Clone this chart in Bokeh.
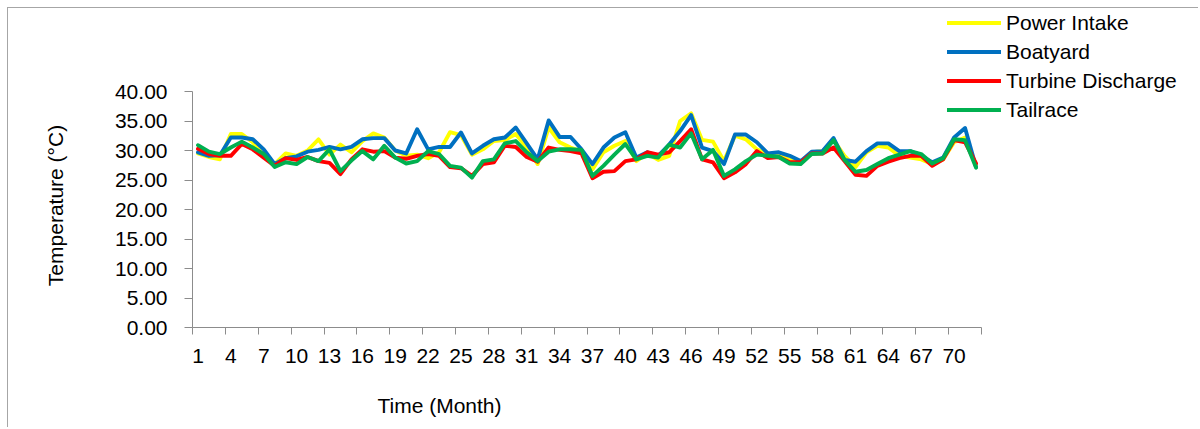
import math
from bokeh.plotting import figure
from bokeh.models import (FixedTicker, Legend, LegendItem, Label,
                          PrintfTickFormatter, Range1d)
from bokeh.embed import file_html
from bokeh.resources import INLINE

months = list(range(1, 73))

power_intake = [29.5, 28.9, 28.5, 32.8, 32.8, 31.4, 29.1, 27.7, 29.5, 29.1, 30.0, 31.9,
                29.3, 31.0, 29.7, 31.6, 32.9, 32.2, 30.0, 29.1, 29.3, 28.7, 29.7, 33.1,
                32.6, 29.3, 30.2, 31.6, 31.75, 32.8, 30.5, 27.7, 33.9, 31.4, 30.5, 29.8,
                26.8, 29.7, 30.8, 31.6, 28.2, 29.5, 28.4, 29.1, 35.0, 36.3, 31.8, 31.5,
                28.2, 32.5, 31.9, 30.2, 29.4, 29.3, 28.4, 28.0, 29.7, 29.9, 31.75, 29.1,
                27.2, 29.7, 30.8, 30.5, 29.1, 28.8, 28.5, 27.7, 28.5, 31.4, 32.2, 27.4]

boatyard = [29.7, 29.1, 29.2, 32.2, 32.2, 31.9, 30.2, 27.7, 28.7, 29.0, 29.8, 30.1,
            30.6, 30.2, 30.6, 31.9, 32.1, 32.1, 30.0, 29.5, 33.6, 30.2, 30.6, 30.6,
            33.05, 29.5, 30.8, 31.9, 32.2, 33.9, 31.2, 28.5, 35.1, 32.3, 32.3, 30.2,
            27.7, 30.5, 32.2, 33.1, 28.8, 29.7, 29.1, 31.0, 33.3, 36.0, 30.5, 29.9,
            27.7, 32.7, 32.7, 31.4, 29.5, 29.7, 29.1, 28.2, 29.8, 29.9, 32.1, 28.4,
            28.1, 29.9, 31.2, 31.2, 29.9, 29.9, 29.1, 28.0, 28.8, 32.2, 33.8, 27.2]

turbine_discharge = [30.3, 29.4, 29.1, 29.1, 31.1, 30.2, 28.8, 27.4, 28.7, 28.4, 28.9, 28.2,
                     27.9, 26.0, 28.5, 30.2, 29.8, 29.9, 28.8, 28.6, 29.1, 29.4, 29.1, 27.2,
                     27.0, 25.7, 27.7, 28.0, 30.8, 30.6, 28.9, 28.1, 30.5, 30.1, 29.9, 29.5,
                     25.3, 26.4, 26.5, 28.2, 28.5, 29.7, 29.3, 29.7, 31.6, 33.6, 28.5, 28.0,
                     25.3, 26.3, 27.7, 29.9, 28.7, 28.9, 28.0, 28.0, 29.5, 29.5, 30.5, 28.2,
                     25.9, 25.7, 27.4, 28.1, 28.7, 29.1, 29.1, 27.4, 28.5, 31.75, 31.4, 27.8]

tailrace = [30.9, 29.8, 29.4, 30.5, 31.5, 30.5, 29.4, 27.2, 28.0, 27.7, 28.9, 28.2,
            30.2, 26.5, 28.3, 29.9, 28.5, 30.8, 28.8, 27.8, 28.2, 29.9, 29.4, 27.4,
            27.1, 25.4, 28.2, 28.5, 31.2, 31.6, 29.7, 28.2, 29.8, 30.2, 30.2, 30.1,
            25.7, 27.4, 29.3, 31.1, 28.5, 29.1, 28.8, 31.0, 30.5, 32.9, 28.5, 30.1,
            25.7, 26.8, 28.2, 29.3, 29.1, 28.9, 27.8, 27.7, 29.4, 29.5, 31.75, 28.4,
            26.4, 26.7, 27.7, 28.7, 29.3, 29.9, 29.4, 27.8, 28.7, 31.9, 31.75, 27.1]

series_names = ["Power Intake", "Boatyard", "Turbine Discharge", "Tailrace"]
series_colors = ["#FFFF00", "#0070C0", "#FF0000", "#00B050"]

x_tick_values = list(range(1, 73, 3))
y_tick_values = [0, 5, 10, 15, 20, 25, 30, 35, 40]
x_title = "Time (Month)"
y_title = "Temperature (\u00b0C)"

FONT = "Liberation Sans"
AXIS_GRAY = "#8C8C8C"

# pixel layout: canvas spans page (8, 8)..(1199, 428); axes box 192..981 x 91..327
W, H = 1191, 420
OX, OY = 8, 8
AX_L, AX_R, AX_T, AX_B = 192, 981, 91, 327
px_per_x = (AX_R - AX_L) / 72.0
px_per_y = (AX_B - AX_T) / 40.0
x_start = 0.5 - (AX_L - OX) / px_per_x
x_end = 0.5 + (OX + W - AX_L) / px_per_x
y_start = -(OY + H - AX_B) / px_per_y
y_end = (AX_B - OY) / px_per_y

p = figure(width=W, height=H, output_backend="svg", toolbar_location=None,
           x_range=Range1d(x_start, x_end), y_range=Range1d(y_start, y_end),
           min_border_left=0, min_border_right=0, min_border_top=0, min_border_bottom=0,
           background_fill_color="white", border_fill_color="white")
p.styles = {"margin-left": "7px", "margin-top": "7px",
            "border-top": "1px solid #A6A6A6", "border-left": "1px solid #A6A6A6"}
p.outline_line_color = None
p.xgrid.visible = False
p.ygrid.visible = False

renderers = []
for vals, col in zip([power_intake, boatyard, turbine_discharge, tailrace], series_colors):
    r = p.line(months, vals, line_color=col, line_width=3.9, line_join="round", line_cap="round")
    renderers.append(r)

# x axis: labels at category centres, tick marks at category boundaries
xa = p.xaxis[0]
xa.fixed_location = 0
xa.bounds = (0.5, 72.5)
xa.ticker = FixedTicker(ticks=x_tick_values,
                        minor_ticks=[v - 0.5 for v in x_tick_values] + [x_tick_values[-1] + 2.5])
xa.major_tick_out = 0
xa.major_tick_in = 0
xa.minor_tick_out = 7
xa.minor_tick_in = 0
xa.minor_tick_line_color = AXIS_GRAY
xa.axis_line_color = AXIS_GRAY
xa.major_label_standoff = 14
xa.major_label_text_font = FONT
xa.major_label_text_font_size = "21px"
xa.major_label_text_color = "black"

ya = p.yaxis[0]
ya.fixed_location = 0.5
ya.bounds = (0, 40)
ya.ticker = FixedTicker(ticks=y_tick_values, minor_ticks=[])
ya.formatter = PrintfTickFormatter(format="%.2f")
ya.major_tick_out = 8
ya.major_tick_in = 0
ya.major_tick_line_color = AXIS_GRAY
ya.axis_line_color = AXIS_GRAY
ya.major_label_standoff = 17
ya.major_label_text_font = FONT
ya.major_label_text_font_size = "21px"
ya.major_label_text_color = "black"

# axis titles, placed off-centre like the original (screen units from frame bottom-left)
p.add_layout(Label(x=439 - OX, y=OY + H - 405, x_units="screen", y_units="screen",
                   text=x_title, text_font=FONT, text_font_size="21px", text_color="black",
                   text_align="center", text_baseline="middle"))
p.add_layout(Label(x=55 - OX, y=OY + H - 205, x_units="screen", y_units="screen",
                   angle=math.pi / 2, text=y_title, text_font=FONT, text_font_size="21px",
                   text_color="black", text_align="center", text_baseline="middle"))

legend = Legend(items=[LegendItem(label=n, renderers=[r]) for n, r in zip(series_names, renderers)],
                location=(947 - OX, OY + H - 124), orientation="vertical",
                glyph_width=54, glyph_height=29, label_height=29, label_standoff=5,
                spacing=0, padding=0, margin=0,
                border_line_color=None, background_fill_alpha=0,
                label_text_font=FONT, label_text_font_size="21px", label_text_color="black")
p.add_layout(legend)

open("out.html", "w").write(file_html(p, INLINE))
